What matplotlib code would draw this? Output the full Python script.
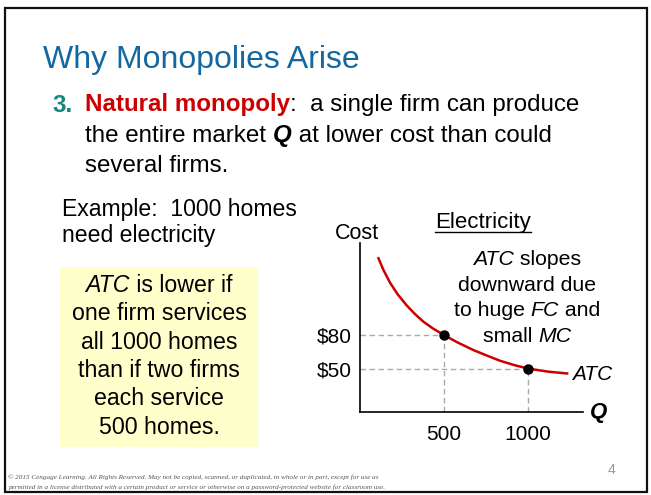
import matplotlib
matplotlib.use("Agg")
import matplotlib.pyplot as plt
from matplotlib.patches import Rectangle
from matplotlib.lines import Line2D

# ATC curve (Q, cost in $)
curve_q = [107, 139, 179, 225, 278, 325, 377, 435, 500, 580, 674, 750, 833, 920, 1000, 1120, 1240]
curve_cost = [149.8, 138.4, 126.8, 116.3, 106.5, 99.1, 92.0, 85.8, 80, 73.4, 66.6, 61.9, 57.0, 53.0, 50, 47.2, 45.5]

# highlighted points
point_q = [500, 1000]
point_cost = [80, 50]
x_tick_labels = ["500", "1000"]
y_tick_labels = ["$80", "$50"]

box_lines = [
    [("ATC", "italic"), (" is lower if", "normal")],
    [("one firm services", "normal")],
    [("all 1000 homes", "normal")],
    [("than if two firms", "normal")],
    [("each service", "normal")],
    [("500 homes.", "normal")],
]
note_lines = [
    [("ATC", "italic"), (" slopes", "normal")],
    [("downward due", "normal")],
    [("to huge ", "normal"), ("FC", "italic"), (" and", "normal")],
    [("small ", "normal"), ("MC", "italic")],
]

W, H = 651, 495
SANS = "Liberation Sans"

fig = plt.figure(figsize=(W / 100, H / 100), dpi=100)
renderer = fig.canvas.get_renderer()


def fx(x):
    return x / W


def fy(y):
    return 1 - y / H


def run_line(x, y, parts, size, align="left"):
    # draw one line made of several styled pieces, left or centre aligned
    texts = []
    for s, kw in parts:
        t = fig.text(0, 0, s, fontsize=size, va="baseline", family=SANS, **kw)
        texts.append(t)
    widths = [t.get_window_extent(renderer).width for t in texts]
    start = x - sum(widths) / 2 if align == "center" else x
    for t, w in zip(texts, widths):
        t.set_position((fx(start), fy(y)))
        start += w
    return texts


# slide frame
fig.add_artist(Rectangle((fx(5), fy(492)), (647 - 5) / W, (492 - 8) / H,
                         transform=fig.transFigure, fill=False, ec="#111111", lw=1.6))

# title and bullet
fig.text(fx(43), fy(68), "Why Monopolies Arise", fontsize=23, family=SANS,
         color="#13699F", va="baseline")
fig.text(fx(52), fy(111.5), "3.", fontsize=17.4, family=SANS, weight="bold",
         color="#16877F", va="baseline")
run_line(85, 111.5, [("Natural monopoly", dict(weight="bold", color="#CC0000")),
                     (":  a single firm can produce", dict(color="black"))], 17.4)
run_line(85, 142, [("the entire market ", dict(color="black")),
                   ("Q", dict(weight="bold", style="italic", color="black")),
                   (" at lower cost than could", dict(color="black"))], 17.4)
run_line(85, 172, [("several firms.", dict(color="black"))], 17.4)

# example text and yellow box
run_line(62, 216, [("Example:  1000 homes", {})], 16.6)
run_line(62, 242, [("need electricity", {})], 16.6)
fig.add_artist(Rectangle((fx(60), fy(447)), 198 / W, 180 / H,
                         transform=fig.transFigure, fc="#FFFFCC", ec="none"))
for i, line in enumerate(box_lines):
    run_line(159, 292 + i * 28.3, [(s, dict(style=st)) for s, st in line], 16.7, align="center")

# chart
ax = fig.add_axes([fx(360), fy(412), (583 - 360) / W, (412 - 243) / H])
ax.set_xlim(0, 1327)
ax.set_ylim(11.1, 162.4)
for side in ["top", "right"]:
    ax.spines[side].set_visible(False)
for side in ["left", "bottom"]:
    ax.spines[side].set_linewidth(1.2)
ax.set_facecolor("none")

for q, c in zip(point_q, point_cost):
    ax.plot([0, q], [c, c], color="#AAAAAA", lw=1, ls=(0, (4, 2.5)), zorder=1)
    ax.plot([q, q], [11.1, c], color="#AAAAAA", lw=1, ls=(0, (4, 2.5)), zorder=1)
ax.plot(curve_q, curve_cost, color="#CC0000", lw=1.8, zorder=2, solid_capstyle="butt")
ax.plot(point_q, point_cost, "o", color="black", ms=6.5, zorder=3)

ax.set_xticks(point_q, x_tick_labels, fontsize=15, family=SANS)
ax.set_yticks(point_cost, y_tick_labels, fontsize=15, family=SANS)
ax.tick_params(axis="x", length=0, pad=9)
ax.tick_params(axis="y", length=0, pad=6)

ax.text(curve_q[-1] + 20, curve_cost[-1] - 1, "ATC", fontsize=15, family=SANS,
        style="italic", va="center", ha="left")

fig.text(fx(590), fy(418), "Q", fontsize=16, family=SANS, weight="bold",
         style="italic", va="baseline")
fig.text(fx(357), fy(239), "Cost", fontsize=15.5, family=SANS, ha="center", va="baseline")
elec = fig.text(fx(483), fy(228), "Electricity", fontsize=16, family=SANS,
                ha="center", va="baseline")
bb = elec.get_window_extent(renderer)
fig.add_artist(Line2D([bb.x0 / W, bb.x1 / W], [fy(232), fy(232)],
                      transform=fig.transFigure, color="black", lw=1))

note_y = [265, 291, 316.5, 342]
for y, line in zip(note_y, note_lines):
    run_line(527, y, [(s, dict(style=st)) for s, st in line], 15.3, align="center")

# footer
fig.text(fx(8), fy(477), "\u00a9 2015 Cengage Learning. All Rights Reserved. May not be copied, scanned, "
         "or duplicated, in whole or in part, except for use as",
         fontsize=5.1, family="Liberation Serif", style="italic", color="#555555", va="center")
fig.text(fx(8), fy(487), "permitted in a license distributed with a certain product or service or "
         "otherwise on a password-protected website for classroom use.",
         fontsize=5.1, family="Liberation Serif", style="italic", color="#555555", va="center")
fig.text(fx(612), fy(470), "4", fontsize=10, family=SANS, color="#999999",
         ha="center", va="center")

fig.savefig("out.png", dpi=100)
